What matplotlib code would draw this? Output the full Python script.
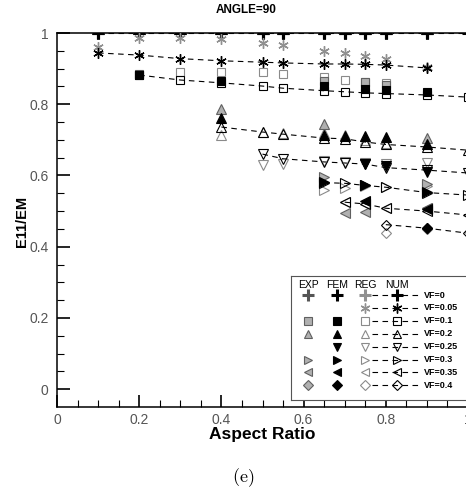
import matplotlib
matplotlib.use("Agg")
import matplotlib.pyplot as plt

plt.rcParams['font.family'] = ['Liberation Sans', 'DejaVu Sans']
plt.rcParams['mathtext.fontset'] = 'cm'

# --- data (E11/EM vs aspect ratio) ---
vf_labels = ["VF=0", "VF=0.05", "VF=0.1", "VF=0.2", "VF=0.25", "VF=0.3", "VF=0.35", "VF=0.4"]

# VF = 0
x_00 = [0.1, 0.2, 0.3, 0.4, 0.5, 0.55, 0.65, 0.7, 0.75, 0.8, 0.9]
exp_y_00 = [1.0] * len(x_00)
num_x_00 = x_00 + [1.0]
num_y_00 = [1.0] * len(num_x_00)

# VF = 0.05
x_05 = [0.1, 0.2, 0.3, 0.4, 0.5, 0.55, 0.65, 0.7, 0.75, 0.8, 0.9]
reg_y_05 = [0.961, 0.985, 0.985, 0.983, 0.972, 0.966, 0.95, 0.944, 0.935, 0.926, 0.905]
num_y_05 = [0.944, 0.938, 0.928, 0.922, 0.918, 0.916, 0.913, 0.913, 0.912, 0.91, 0.902]

# VF = 0.1
exp_x_10 = [0.2, 0.65, 0.75, 0.8]
exp_y_10 = [0.885, 0.866, 0.862, 0.855]
fem_x_10 = [0.2, 0.4, 0.65, 0.75, 0.8, 0.9]
fem_y_10 = [0.882, 0.865, 0.85, 0.843, 0.84, 0.835]
reg_x_10 = [0.3, 0.4, 0.5, 0.55, 0.65, 0.7, 0.75, 0.8]
reg_y_10 = [0.89, 0.89, 0.89, 0.885, 0.876, 0.868, 0.863, 0.86]
num_x_10 = [0.2, 0.3, 0.4, 0.5, 0.55, 0.65, 0.7, 0.75, 0.8, 0.9, 1.0]
num_y_10 = [0.882, 0.868, 0.86, 0.851, 0.845, 0.838, 0.835, 0.832, 0.83, 0.826, 0.82]

# VF = 0.2
exp_x_20 = [0.4, 0.65, 0.9]
exp_y_20 = [0.787, 0.745, 0.705]
fem_x_20 = [0.4, 0.65, 0.7, 0.75, 0.8, 0.9]
fem_y_20 = [0.762, 0.715, 0.71, 0.712, 0.708, 0.688]
reg_x_20 = [0.4, 0.5, 0.55, 0.65, 0.7, 0.75, 0.8]
reg_y_20 = [0.713, 0.722, 0.718, 0.72, 0.715, 0.7, 0.69]
num_x_20 = [0.4, 0.5, 0.55, 0.65, 0.7, 0.75, 0.8, 0.9, 1.0]
num_y_20 = [0.736, 0.722, 0.716, 0.705, 0.703, 0.694, 0.687, 0.68, 0.671]

# VF = 0.25
fem_x_25 = [0.75, 0.8, 0.9]
fem_y_25 = [0.632, 0.628, 0.61]
reg_x_25 = [0.5, 0.55, 0.65, 0.7, 0.75, 0.8, 0.9]
reg_y_25 = [0.629, 0.632, 0.64, 0.637, 0.635, 0.632, 0.636]
num_x_25 = [0.5, 0.55, 0.65, 0.7, 0.75, 0.8, 0.9, 1.0]
num_y_25 = [0.66, 0.647, 0.638, 0.635, 0.632, 0.622, 0.615, 0.607]

# VF = 0.3
exp_x_30 = [0.65, 0.9]
exp_y_30 = [0.597, 0.575]
fem_x_30 = [0.65, 0.75, 0.9]
fem_y_30 = [0.582, 0.573, 0.555]
reg_x_30 = [0.65, 0.7, 0.75, 0.8, 0.9]
reg_y_30 = [0.56, 0.565, 0.57, 0.567, 0.57]
num_x_30 = [0.65, 0.7, 0.75, 0.8, 0.9, 1.0]
num_y_30 = [0.58, 0.578, 0.572, 0.567, 0.552, 0.545]

# VF = 0.35
exp_x_35 = [0.7, 0.75, 0.9]
exp_y_35 = [0.494, 0.497, 0.51]
fem_x_35 = [0.75, 0.9]
fem_y_35 = [0.527, 0.505]
reg_x_35 = [0.7, 0.75, 0.8, 0.9]
reg_y_35 = [0.525, 0.52, 0.51, 0.51]
num_x_35 = [0.7, 0.75, 0.8, 0.9, 1.0]
num_y_35 = [0.525, 0.52, 0.508, 0.5, 0.489]

# VF = 0.4
exp_x_40 = [0.9]
exp_y_40 = [0.45]
fem_x_40 = [0.9]
fem_y_40 = [0.452]
reg_x_40 = [0.8]
reg_y_40 = [0.438]
num_x_40 = [0.8, 0.9, 1.0]
num_y_40 = [0.462, 0.452, 0.438]

# (exp, fem, reg, num) for each VF, in legend order
series = [
    ((x_00, exp_y_00), (x_00, exp_y_00), (x_00, exp_y_00), (num_x_00, num_y_00)),
    (([], []), ([], []), (x_05, reg_y_05), (x_05, num_y_05)),
    ((exp_x_10, exp_y_10), (fem_x_10, fem_y_10), (reg_x_10, reg_y_10), (num_x_10, num_y_10)),
    ((exp_x_20, exp_y_20), (fem_x_20, fem_y_20), (reg_x_20, reg_y_20), (num_x_20, num_y_20)),
    (([], []), (fem_x_25, fem_y_25), (reg_x_25, reg_y_25), (num_x_25, num_y_25)),
    ((exp_x_30, exp_y_30), (fem_x_30, fem_y_30), (reg_x_30, reg_y_30), (num_x_30, num_y_30)),
    ((exp_x_35, exp_y_35), (fem_x_35, fem_y_35), (reg_x_35, reg_y_35), (num_x_35, num_y_35)),
    ((exp_x_40, exp_y_40), (fem_x_40, fem_y_40), (reg_x_40, reg_y_40), (num_x_40, num_y_40)),
]

markers = ['+', (6, 2, 0), 's', '^', 'v', '>', '<', 'D']
msizes = [9, 7.5, 5.5, 6.5, 6.5, 6.5, 6.5, 5.5]

# marker styling per source: EXP, FEM, REG, NUM
def style(src, i):
    m = markers[i]
    s = dict(marker=m, markersize=msizes[i], linestyle='none')
    if m == '+' or m == (6, 2, 0):
        mew = 2.2 if m == '+' else 1.0
        col = {'exp': '#555555', 'fem': 'black', 'reg': '#909090', 'num': 'black'}[src]
        s.update(color=col, markeredgewidth=mew)
        return s
    if src == 'exp':
        s.update(markerfacecolor='#b0b0b0', markeredgecolor='#606060', markeredgewidth=0.8)
    elif src == 'fem':
        s.update(markerfacecolor='black', markeredgecolor='black', markeredgewidth=0.8)
    elif src == 'reg':
        s.update(markerfacecolor='none', markeredgecolor='#8a8a8a', markeredgewidth=0.8)
    else:
        s.update(markerfacecolor='none', markeredgecolor='black', markeredgewidth=0.8)
    return s

W, H = 466, 495
fig = plt.figure(figsize=(W / 100, H / 100), dpi=100)
ax = fig.add_axes([57 / W, 88 / H, 411 / W, 374 / H])

for i, (exp, fem, reg, num) in enumerate(series):
    ax.plot(num[0], num[1], color='black', lw=0.8, dashes=(5, 4), zorder=2)
    for src, (xs, ys) in zip(['reg', 'exp', 'fem', 'num'], [reg, exp, fem, num]):
        if xs:
            ax.plot(xs, ys, zorder=3, **style(src, i))

ax.set_xlim(0, 1)
ax.set_ylim(-0.05, 1)
ax.set_xticks([0, 0.2, 0.4, 0.6, 0.8, 1.0])
ax.set_xticklabels(['0', '0.2', '0.4', '0.6', '0.8', '1'])
ax.set_yticks([0, 0.2, 0.4, 0.6, 0.8, 1.0])
ax.set_yticklabels(['0', '0.2', '0.4', '0.6', '0.8', '1'])
ax.set_xticks([i * 0.05 for i in range(21)], minor=True)
ax.set_yticks([i * 0.05 for i in range(21)], minor=True)
ax.tick_params(which='major', direction='in', length=9, width=1.2, labelsize=10,
               labelcolor='#555555')
ax.tick_params(which='minor', direction='in', length=5, width=0.8)
ax.tick_params(axis='y', which='major', pad=6)
ax.tick_params(axis='x', which='major', pad=4)
for sp in ax.spines.values():
    sp.set_linewidth(1.1)

fig.text(262 / W, 1 - 434 / H, 'Aspect Ratio', ha='center', va='center',
         fontsize=12.5, fontweight='bold')
fig.text(22 / W, 1 - 221 / H, 'E11/EM', ha='center', va='center', rotation=90,
         fontsize=10.5, fontweight='bold')
fig.text(246 / W, 1 - 10 / H, 'ANGLE=90', ha='center', va='center',
         fontsize=8.5, fontweight='bold')
fig.text(243 / W, 1 - 478 / H, r'$\mathrm{(e)}$', ha='center', va='center', fontsize=13)

# --- legend box, drawn in pixel units ---
lg = fig.add_axes([291 / W, 95 / H, 200 / W, 124 / H])
lg.set_xlim(0, 200)
lg.set_ylim(124, 0)
lg.set_xticks([])
lg.set_yticks([])
for sp in lg.spines.values():
    sp.set_linewidth(0.8)
    sp.set_color('#555555')

col_x = [17, 46, 74, 106]
for name, cx in zip(['EXP', 'FEM', 'REG', 'NUM'], col_x):
    lg.text(cx, 9, name, ha='center', va='center', fontsize=7.5)

for i, (exp, fem, reg, num) in enumerate(series):
    ry = 19 + 12.9 * i
    lg.plot([81, 127], [ry, ry], color='black', lw=0.8, dashes=(5, 4))
    for src, (xs, ys), cx in zip(['exp', 'fem', 'reg', 'num'], [exp, fem, reg, num], col_x):
        if xs:
            st = style(src, i)
            st['markersize'] = st['markersize'] * 0.95
            lg.plot([cx], [ry], **st)
    lg.text(133, ry, vf_labels[i], ha='left', va='center', fontsize=6.5, fontweight='bold')

fig.savefig('out.png', dpi=100)
